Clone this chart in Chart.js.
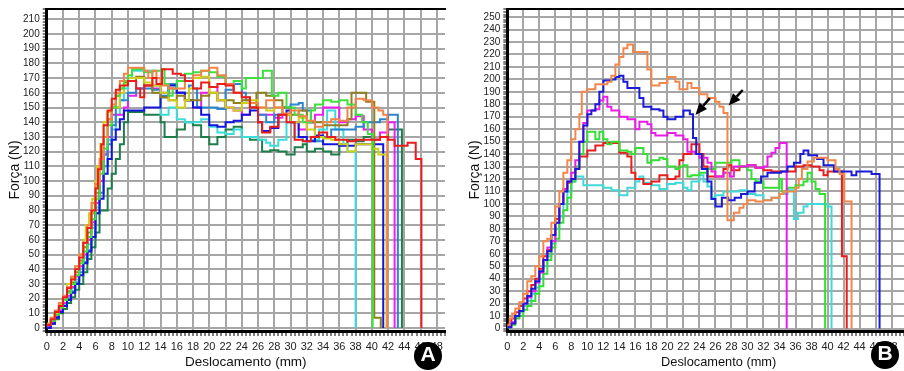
<!DOCTYPE html>
<html>
<head>
<meta charset="utf-8">
<script src="https://cdn.jsdelivr.net/npm/chart.js@4.4.1/dist/chart.umd.min.js"></script>
<style>
  html, body { margin: 0; padding: 0; background: #fff; width: 904px; height: 371px; overflow: hidden; }
  .panel { position: absolute; top: 0; height: 371px; }
  #wrapA { left: 0; width: 450px; }
  #wrapB { left: 454px; width: 480px; }
  .badge {
    position: absolute; width: 28px; height: 28px; border-radius: 50%;
    background: #000; color: #fff; text-align: center; line-height: 29px;
    font: bold 21px 'Liberation Sans', Arial, sans-serif;
  }
  #badgeA { left: 414px; top: 342px; }
  #badgeB { left: 871px; top: 341px; }
</style>
</head>
<body>
<div class="panel" id="wrapA"><canvas id="chartA" width="450" height="371"></canvas></div>
<div class="panel" id="wrapB"><canvas id="chartB" width="480" height="371"></canvas></div>
<div class="badge" id="badgeA">A</div>
<div class="badge" id="badgeB">B</div>
<script>
// Panel A: [deslocamento mm, força N], step curves
const aRed = [[0,2],[0.5,6],[1,11],[1.5,15],[2,21],[2.5,27],[3,33],[3.5,40],[4,48],[4.5,58],[5,68],[5.5,80],[6,95],[6.3,108],[6.7,125],[7,138],[7.5,148],[8,156],[8.5,162],[9,165],[10,168],[11,163],[11.5,157],[12,165],[13,170],[13.5,166],[14.2,176],[15,176],[15.5,173],[16.5,172],[17,168],[18,163],[19,167],[20,164],[21,166],[22,165],[23,160],[24,157],[25,150],[26,140],[26.5,133],[27.5,137],[28.5,145],[29.5,140],[30.5,128],[31.5,127],[32.5,130],[33.5,133],[34.5,130],[35.5,128],[37,127],[38,128],[40,128],[41,130],[42,128],[42.8,124],[44.4,126],[45.4,115],[46.1,115],[46.1,0]];
const aOrange = [[0,3],[0.5,7],[1,12],[1.5,17],[2,22],[2.5,28],[3,35],[3.5,42],[4,50],[4.5,58],[5,70],[5.5,85],[6,98],[6.5,115],[7,130],[7.5,142],[8,152],[8.5,160],[9,168],[9.5,173],[10,177],[11.5,177],[12,175],[12.5,170],[13,175],[13.5,170],[14,165],[15,163],[16,163],[17,168],[18,172],[19,175],[20,177],[21,172],[22,166],[23,160],[24,157],[25,153],[26,150],[27,155],[28,150],[29,146],[30,148],[31,144],[32,141],[33,137],[34,140],[35,142],[36,141],[37,150],[38,156],[39,155],[40,150],[40.8,148],[41.4,145],[41.9,145],[41.9,0]];
const aGreen = [[0,2],[0.5,5],[1,9],[1.5,14],[2,19],[2.5,24],[3,30],[3.5,36],[4,44],[4.5,52],[5,62],[5.5,74],[6,88],[6.5,105],[7,122],[7.5,138],[8,150],[8.5,158],[9,163],[9.5,168],[10,172],[10.5,176],[12,174],[13,175],[14.1,176],[14.5,166],[15,158],[15.5,163],[16,168],[17,173],[18,174],[19,175],[20,174],[21,171],[22,166],[23,168],[24,163],[24.5,170],[26.6,175],[27.7,158],[28.5,160],[29.5,150],[30.5,145],[31.5,140],[32.5,148],[33,152],[34,155],[35,154],[36,155],[37,152],[38,145],[38.8,140],[39.5,132],[40.1,132],[40.1,0]];
const aYellow = [[0,3],[0.5,7],[1,10],[1.5,16],[2,21],[2.5,30],[3,34],[3.5,42],[4,50],[4.5,60],[4.8,70],[5.2,78],[5.6,88],[6,100],[6.2,110],[6.6,125],[7,140],[7.4,147],[8,150],[9,160],[9.5,166],[10,170],[11,170],[12,167],[13,165],[14,160],[15,155],[16,150],[17,155],[17.5,163],[18,170],[19,171],[20,160],[21,155],[22,150],[23,148],[24,153],[25,155],[26,150],[27,148],[28,150],[29,145],[30,140],[31,143],[32,135],[33,130],[34,129],[35,128],[36,125],[37,120],[38,125],[39,125],[40,122],[40.8,118],[41.8,118],[41.8,0]];
const aOlive = [[0,2],[0.5,5],[1,9],[1.5,14],[2,19],[2.5,25],[3,31],[3.5,38],[4,46],[4.5,55],[5,65],[5.5,78],[6,92],[6.5,110],[7,130],[7.5,142],[8,150],[8.5,158],[9,163],[9.5,167],[10,168],[11,171],[12,165],[13,160],[14,157],[15,155],[16,158],[17,155],[18,155],[19,158],[20,160],[21,155],[22,155],[23,153],[24,155],[25,150],[25.8,160],[27,158],[28,155],[29,150],[30,145],[31,148],[32,140],[33,140],[34,138],[36,138],[37,142],[37.5,160],[38.8,160],[39.3,154],[40.3,7],[41.1,0]];
const aBlue = [[0,0],[0.5,3],[1,7],[1.5,11],[2,15],[2.5,19],[3,24],[3.5,30],[4,36],[4.5,44],[5,52],[5.5,62],[6,78],[6.5,88],[7,105],[7.5,115],[8,128],[8.5,135],[9,142],[9.5,148],[11.5,148],[12,150],[13,150],[14,157],[15,165],[16,160],[17,155],[18,150],[19,145],[20,138],[21,137],[22,140],[23,141],[24,145],[25,148],[26,140],[26.5,134],[27.5,136],[28.5,145],[29.5,148],[30,140],[31,130],[32,127],[33,131],[34,125],[35,125],[36,124],[37,124],[38,125],[41.4,125],[41.4,0]];
const aSteel = [[0,0],[0.5,3],[1,7],[1.5,11],[2,15],[2.5,20],[3,25],[3.5,31],[4,38],[4.5,45],[5,53],[5.5,62],[6,78],[6.5,92],[7,110],[7.5,125],[8,138],[8.5,150],[9,155],[10,160],[11,163],[13,162],[14,158],[15,166],[16,160],[17,155],[17.5,165],[18,163],[18.5,150],[21,149],[22,162],[23,166],[24,160],[24.5,155],[25,150],[26,145],[27,140],[28,145],[29,150],[30,152],[31,153],[31.5,148],[32.5,140],[33,127],[34,130],[35,135],[37,135],[38,137],[39,140],[40,140],[41,142],[42,145],[43.2,145],[43.2,0]];
const aMagenta = [[0,1],[0.5,4],[1,8],[1.5,12],[2,17],[2.5,22],[3,28],[3.5,35],[4,42],[4.5,50],[5,60],[5.5,72],[6,85],[6.5,100],[7,118],[7.5,130],[8,145],[9,145],[9.5,150],[10,158],[11,163],[12,165],[13,163],[14,160],[15,163],[16,160],[17,155],[18,150],[19,160],[20,164],[21,155],[22,150],[23,148],[24,145],[25,150],[26,145],[28,143],[29,145],[30,140],[31,135],[32,140],[33,145],[34,150],[35.5,150],[36,140],[37,142],[38,144],[39,135],[40,128],[41,133],[42,140],[42.8,140],[42.8,0]];
const aCyan = [[0,1],[0.5,4],[1,8],[1.5,12],[2,16],[2.5,21],[3,27],[3.5,33],[4,40],[4.5,48],[5,57],[5.5,68],[6,82],[6.5,100],[7,118],[7.5,128],[8,135],[8.5,145],[9,155],[9.5,163],[10,170],[10.5,175],[12.5,175],[13,165],[14,145],[15,150],[16,142],[17,140],[19,142],[20,137],[21,133],[22,132],[23,135],[24,130],[25,130],[26,128],[27,126],[27.5,124],[28.5,128],[29.5,140],[30.5,130],[31.5,127],[32.5,128],[33.5,135],[34.5,148],[35.5,135],[36.5,125],[37,120],[38,120],[38,0]];
const aDkGreen = [[0,0],[0.5,3],[1,6],[1.5,10],[2,13],[2.5,17],[3,21],[3.5,26],[4,30],[4.5,38],[5,47],[5.5,55],[6,65],[6.5,80],[7.5,95],[8,105],[8.5,115],[9,125],[9.5,140],[10,147],[11.5,147],[12,145],[13,145],[14,140],[14.5,130],[15.5,130],[16,135],[17,140],[18,138],[19,130],[20,125],[21,130],[22,135],[23,137],[24,130],[25,128],[26,128],[26.5,120],[27.5,121],[28.5,120],[29.5,118],[30.5,123],[31.5,125],[32,120],[33,122],[34,120],[35,118],[36,125],[37,128],[38,127],[39,130],[40,128],[41,130],[42,135],[43.7,135],[43.7,0]];

// Panel B
const bOrange = [[0,3],[0.3,8],[0.6,12],[1,16],[1.5,21],[2,28],[2.5,38],[3,42],[3.5,50],[4,58],[4.5,70],[5,72],[5.5,85],[6,98],[6.5,110],[7,125],[7.5,135],[8,152],[8.5,160],[9,172],[9.3,190],[10,192],[11,196],[12.5,198],[13,203],[13.5,212],[14,218],[14.5,225],[15,228],[15.7,222],[17,222],[17.5,208],[18,195],[19,197],[20,202],[21,198],[21.5,192],[22.5,197],[23,193],[24,188],[25,185],[26,182],[26.5,178],[27,173],[27.5,87],[28.3,93],[29,97],[29.5,100],[30,103],[31,102],[32,103],[33,105],[34,108],[34.5,110],[36,113],[36.4,120],[36.8,128],[37.5,134],[38.3,137],[40,135],[41,128],[41.5,124],[42.1,102],[43,102],[43,0]];
const bBlue = [[0,1],[0.5,4],[1,10],[1.5,14],[2,20],[2.5,26],[3,32],[3.5,38],[4,46],[4.5,55],[5,62],[5.5,75],[6,85],[6.5,100],[7,110],[7.5,118],[8,120],[8.5,128],[9,150],[9.5,163],[10,172],[10.5,175],[11,180],[11.5,190],[12,199],[13,200],[13.5,202],[14,203],[14.5,198],[15,193],[16,193],[16.5,185],[17,178],[18,176],[19,175],[19.5,170],[20,168],[21,170],[22,175],[22.8,172],[23.2,153],[23.6,140],[24.3,128],[25,118],[25.5,104],[26,98],[26.8,105],[27.6,103],[28.4,105],[29.2,108],[30,110],[30.9,117],[31.7,122],[32.5,125],[34.2,126],[35,130],[35.8,133],[36.6,140],[37,143],[37.6,139],[38.7,136],[39.5,131],[40.8,126],[42.4,126],[43,123],[43.6,126],[45.3,126],[45.5,124],[46.5,124],[46.5,0]];
const bMagenta = [[0,2],[0.5,5],[1,10],[1.5,14],[2,20],[2.5,25],[3,30],[3.5,37],[4,45],[4.5,55],[5,65],[5.5,70],[6,85],[6.5,100],[7,112],[7.5,118],[8,125],[8.5,135],[9,150],[9.5,165],[10,175],[11,176],[11.5,183],[12,186],[12.5,178],[13,175],[14,170],[15,168],[16,160],[16.5,166],[17.5,164],[18,157],[18.5,155],[20,157],[21,155],[22,152],[22.5,142],[23.5,140],[24,137],[25,133],[25.5,126],[26,122],[27,125],[27.8,122],[28.3,130],[30,131],[31,129],[32,130],[32.5,138],[33,141],[33.5,145],[34,149],[34.9,149],[34.9,0]];
const bGreen = [[0,1],[0.5,3],[1,8],[1.5,10],[2,15],[2.5,18],[3,22],[3.5,28],[4,34],[4.5,44],[5,55],[5.5,65],[6,72],[6.5,85],[7,95],[7.5,105],[8,118],[8.5,130],[9,140],[9.5,150],[10,158],[11,152],[11.5,158],[12,152],[12.5,148],[13,150],[14,143],[15,142],[15.5,140],[16,145],[17,140],[17.5,133],[18,135],[19,137],[19.5,136],[20,130],[21,128],[21.5,130],[22,131],[22.5,122],[23,123],[24,125],[25,128],[26,133],[28,135],[29,130],[30,127],[30.5,120],[31,118],[32,113],[33,113],[34,120],[34.3,110],[35,113],[36,115],[37,118],[37.5,125],[38,118],[38.5,112],[39,108],[39.7,108],[39.7,0]];
const bRed = [[0,3],[0.5,8],[1,13],[1.5,18],[2,24],[2.5,30],[3,35],[3.5,40],[4,48],[4.5,58],[5,63],[5.5,75],[6,88],[6.5,100],[7,112],[7.5,117],[8,120],[8.5,128],[9,138],[10,143],[11,147],[12,149],[13,149],[14,141],[15,138],[15.5,125],[16,120],[17,116],[18,118],[19,123],[20,120],[21,122],[21.5,135],[22,140],[23,148],[24,140],[24.5,130],[25,122],[26,122],[27,128],[27.5,131],[28,127],[29,130],[30,131],[31,129],[32,127],[33,126],[35,126],[36,130],[37,131],[38,130],[39,127],[39.5,123],[40,126],[41.8,58],[42.4,0]];
const bCyan = [[0,1],[0.5,5],[1,9],[1.5,13],[2,18],[2.5,22],[3,28],[3.5,33],[4,40],[4.5,50],[5,58],[5.5,68],[6,80],[6.5,90],[7,100],[7.5,110],[8,118],[8.5,122],[9.5,115],[11,115],[12,113],[13,111],[14,107],[15,113],[16,118],[16.5,122],[17,117],[18,115],[19,112],[20,116],[21,117],[22,113],[22.5,111],[23,118],[24,123],[24.5,118],[25,114],[25.5,105],[26,107],[27,110],[28,110],[29,111],[30,108],[31,107],[32,103],[33,105],[34,108],[35,111],[35.8,88],[36.3,93],[37,98],[37.5,100],[39,100],[40,98],[40.5,98],[40.5,0]];

// arrows in panel B: [tailX, tailY, headX, headY]
const arrowsB = [[25.3, 185, 23.5, 171.5], [29.4, 191.5, 27.65, 179]];

const gridGray = '#a6a6a6';
const narrow = "'Liberation Sans Narrow', 'Arial Narrow', 'Liberation Sans', sans-serif";
const sans = "'Liberation Sans', Arial, sans-serif";

const arrowPlugin = {
  id: 'arrows',
  afterDatasetsDraw(chart, args, opts) {
    const list = opts.list || [];
    const { ctx, scales: { x, y } } = chart;
    ctx.save();
    ctx.strokeStyle = '#000';
    ctx.fillStyle = '#000';
    ctx.lineWidth = 2.5;
    list.forEach(([tx, ty, hx, hy]) => {
      const x0 = x.getPixelForValue(tx), y0 = y.getPixelForValue(ty);
      const x1 = x.getPixelForValue(hx), y1 = y.getPixelForValue(hy);
      const ang = Math.atan2(y1 - y0, x1 - x0);
      const head = 12, half = 5;
      const bx = x1 - head * Math.cos(ang), by = y1 - head * Math.sin(ang);
      ctx.beginPath(); ctx.moveTo(x0, y0); ctx.lineTo(bx, by); ctx.stroke();
      ctx.beginPath();
      ctx.moveTo(x1, y1);
      ctx.lineTo(bx + half * Math.sin(ang), by - half * Math.cos(ang));
      ctx.lineTo(bx - half * Math.sin(ang), by + half * Math.cos(ang));
      ctx.closePath(); ctx.fill();
    });
    ctx.restore();
  }
};

function toDatasets(list) {
  return list.map(s => ({
    data: s.data,
    borderColor: s.color,
    borderWidth: 2,
    stepped: true,
    pointRadius: 0,
    fill: false
  }));
}

function panelOptions(p) {
  return {
    responsive: false,
    animation: false,
    devicePixelRatio: 1,
    layout: { padding: { left: 0, right: p.padRight, top: p.padTop, bottom: 0 } },
    plugins: {
      legend: { display: false },
      tooltip: { enabled: false },
      arrows: { list: p.arrows || [] }
    },
    scales: {
      x: {
        type: 'linear', position: 'bottom', min: 0, max: p.xMax,
        afterFit: s => { s.height = 40; },
        grid: {
          color: c => (c.tick && c.tick.value % 2 === 0) ? gridGray : 'rgba(0,0,0,0)',
          lineWidth: 2, tickColor: '#000', tickLength: 5, tickWidth: 1
        },
        border: { color: '#000', width: 3 },
        ticks: {
          stepSize: 0.5, autoSkip: false, maxRotation: 0, minRotation: 0, padding: 4,
          color: '#222', font: { family: narrow, size: 11 },
          callback: v => (v % 2 === 0 && v <= 48 ? String(v) : '')
        },
        title: {
          display: true, text: 'Deslocamento (mm)', color: '#111',
          font: { family: sans, size: p.xTitleSize }, padding: { top: 0, bottom: 1 }
        }
      },
      xTop: {
        type: 'linear', position: 'top', min: 0, max: p.xMax,
        afterFit: s => { s.height = 0; },
        grid: { display: false, drawTicks: false },
        ticks: { display: false },
        border: { display: true, color: '#000', width: 2 }
      },
      y: {
        type: 'linear', position: 'left', min: -2, max: p.yMax,
        afterFit: s => { s.width = p.yWidth; },
        grid: {
          color: c => (c.tick && c.tick.value % 10 === 0) ? gridGray : 'rgba(0,0,0,0)',
          lineWidth: 2, tickColor: '#000', tickLength: 4, tickWidth: 1
        },
        border: { color: '#000', width: 3 },
        ticks: {
          stepSize: 2, autoSkip: false, padding: 3,
          color: '#222', font: { family: narrow, size: 10 },
          callback: v => (v >= 0 && v % 10 === 0 ? String(v) : '')
        },
        title: {
          display: true, text: 'Força (N)', color: '#111',
          font: { family: sans, size: 14 }, padding: { top: p.yTitlePad, bottom: 0 }
        }
      }
    }
  };
}

new Chart(document.getElementById('chartA'), {
  type: 'line',
  data: {
    datasets: toDatasets([
      { data: aRed, color: '#ec1c1c' },
      { data: aOrange, color: '#f2834a' },
      { data: aGreen, color: '#3ee03e' },
      { data: aYellow, color: '#cfcf1a' },
      { data: aOlive, color: '#8f7f1f' },
      { data: aBlue, color: '#1414dc' },
      { data: aSteel, color: '#2b86cf' },
      { data: aMagenta, color: '#f01ef0' },
      { data: aCyan, color: '#3cdcdc' },
      { data: aDkGreen, color: '#1e7d48' }
    ])
  },
  options: panelOptions({ xMax: 49, yMax: 217, padTop: 6, padRight: 5, yWidth: 46.7, yTitlePad: 6.6, xTitleSize: 13.5 })
});

new Chart(document.getElementById('chartB'), {
  type: 'line',
  data: {
    datasets: toDatasets([
      { data: bOrange, color: '#f2874c' },
      { data: bBlue, color: '#1a1ad8' },
      { data: bMagenta, color: '#e81ee8' },
      { data: bGreen, color: '#35dd35' },
      { data: bRed, color: '#e81e1e' },
      { data: bCyan, color: '#40d8d8' }
    ])
  },
  options: panelOptions({ xMax: 52.8, yMax: 256.5, padTop: 7, padRight: 0, yWidth: 53.3, yTitlePad: 12.6, xTitleSize: 12.8, arrows: arrowsB }),
  plugins: [arrowPlugin]
});
</script>
</body>
</html>
